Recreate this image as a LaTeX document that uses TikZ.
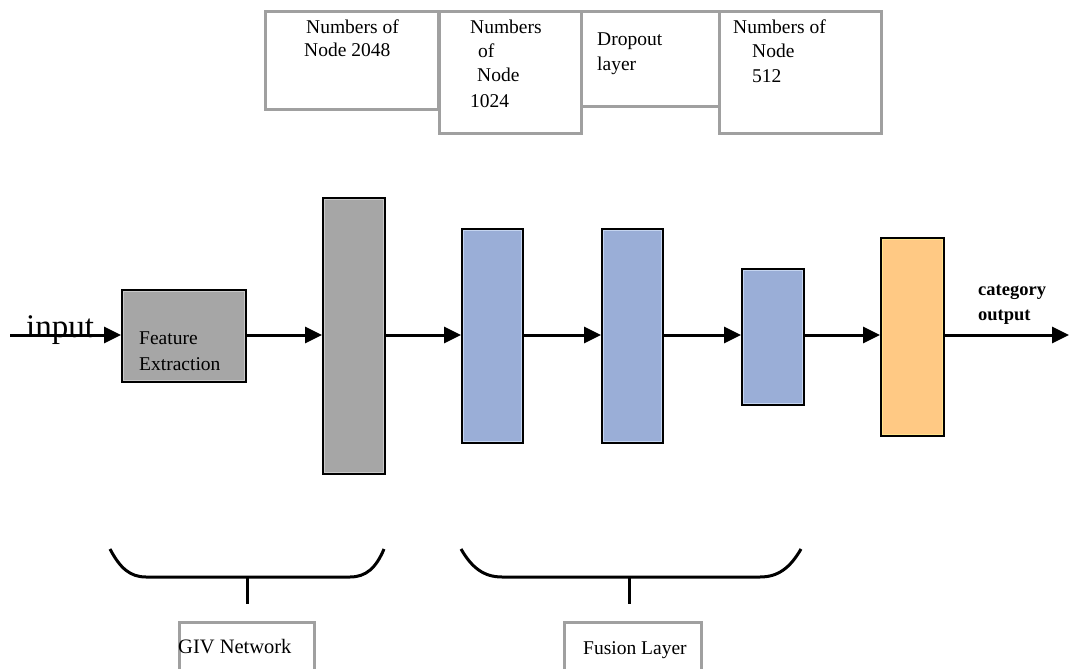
\documentclass[tikz,border=0pt]{standalone}
\usepackage{fontspec}
\setmainfont{Liberation Serif}
\usetikzlibrary{arrows.meta}
\definecolor{boxgray}{HTML}{A0A0A0}
\definecolor{fegray}{HTML}{A6A6A6}
\definecolor{layblue}{HTML}{9AAED7}
\definecolor{lightblue}{HTML}{C5D5F0}
\definecolor{lightgray}{HTML}{C8C8C8}
\definecolor{layorange}{HTML}{FFC984}
\definecolor{layyellow}{HTML}{FFE38A}
\tikzset{
  topbox/.style={draw=boxgray, line width=2.8pt, fill=white, anchor=north west, inner sep=0pt},
  layer/.style={draw=black, line width=3pt, anchor=north west, inner sep=0pt},
  conn/.style={line width=3pt, -{Triangle[length=17pt,width=16pt]}},
  brace/.style={line width=3pt},
  txt/.style={anchor=west, inner sep=0pt, font=\fontsize{19.5}{21}\selectfont},
  btxt/.style={anchor=west, inner sep=0pt, font=\fontsize{18.5}{20}\selectfont\bfseries},
}
\newcommand{\innerline}[2]{\draw[#1, line width=1pt] ([shift={(2.6,-2.6)}]#2.south west) rectangle ([shift={(-2.6,2.6)}]#2.north east);}
\begin{document}
\begin{tikzpicture}[x=1pt,y=-1pt]
\useasboundingbox (0,0) rectangle (1069,669);
% top boxes
\node[topbox, minimum width=173pt, minimum height=98pt] (b1) at (264,10) {};
\node[topbox, minimum width=142pt, minimum height=122pt] (b2) at (438,10) {};
\node[topbox, minimum width=138pt, minimum height=95pt] (b3) at (580,10) {};
\node[topbox, minimum width=162pt, minimum height=122pt] (b4) at (718,10) {};
\node[txt] (t11) at (306,27) {Numbers of};
\node[txt] (t12) at (304,50) {Node 2048};
\node[txt] (t21) at (470,27) {Numbers};
\node[txt] (t22) at (478,51) {of};
\node[txt] (t23) at (477,75) {Node};
\node[txt] (t24) at (470,101) {1024};
\node[txt] (t31) at (597,41) {Dropout};
\node[txt] (t32) at (597,66) {layer};
\node[txt] (t41) at (733,27) {Numbers of};
\node[txt] (t42) at (752,51) {Node};
\node[txt] (t43) at (752,76) {512};
% layers
\node[layer, fill=fegray, minimum width=123pt, minimum height=91pt] (fe) at (121,289) {};
\innerline{lightgray}{fe}
\node[txt] (fe1) at (139,338) {Feature};
\node[txt] (fe2) at (139,364) {Extraction};
\node[layer, fill=fegray, minimum width=61pt, minimum height=275pt] (g1) at (322,197) {};
\innerline{lightgray}{g1}
\node[layer, fill=layblue, minimum width=60pt, minimum height=213pt] (l1) at (461,228) {};
\innerline{lightblue}{l1}
\node[layer, fill=layblue, minimum width=60pt, minimum height=213pt] (l2) at (601,228) {};
\innerline{lightblue}{l2}
\node[layer, fill=layblue, minimum width=61pt, minimum height=135pt] (l3) at (741,268) {};
\innerline{lightblue}{l3}
\node[layer, fill=layorange, minimum width=62pt, minimum height=197pt] (o1) at (880,237) {};
\innerline{layyellow}{o1}
% connectors
\coordinate (in) at (10,335);
\coordinate (out) at (1069,335);
\draw[conn] (in) -- (fe.west |- in);
\node[anchor=base west, inner sep=0pt, font=\fontsize{33}{35}\selectfont] (inl) at (26,337) {input};
\draw[conn] (fe.east |- in) -- (g1.west |- in);
\draw[conn] (g1.east |- in) -- (l1.west |- in);
\draw[conn] (l1.east |- in) -- (l2.west |- in);
\draw[conn] (l2.east |- in) -- (l3.west |- in);
\draw[conn] (l3.east |- in) -- (o1.west |- in);
\draw[conn] (o1.east |- in) -- (out);
\node[btxt] (c1) at (978,292) {category};
\node[btxt] (c2) at (978,317) {output};
% braces
\coordinate (ga) at (110,549);
\coordinate (gb) at (384,549);
\coordinate (gm) at (247,577);
\coordinate (gs) at (247,604);
\draw[brace] (ga) .. controls (120,568) and (130,577) .. (146,577) -- (350,577) .. controls (366,577) and (376,568) .. (gb);
\draw[brace] (gm) -- (gs);
\coordinate (fa) at (461,549);
\coordinate (fb) at (801,549);
\coordinate (fm) at (629,577);
\coordinate (fs) at (629,604);
\draw[brace] (fa) .. controls (472,568) and (484,577) .. (502,577) -- (760,577) .. controls (778,577) and (790,568) .. (fb);
\draw[brace] (fm) -- (fs);
% bottom boxes
\node[topbox, minimum width=135pt, minimum height=60pt] (giv) at (178,621) {};
\node[anchor=west, inner sep=0pt, font=\fontsize{20.5}{22}\selectfont] (givt) at (178,647) {GIV Network};
\node[topbox, minimum width=137pt, minimum height=60pt] (fus) at (563,621) {};
\node[txt] (fust) at (583,650) {Fusion Layer};
\end{tikzpicture}
\end{document}
